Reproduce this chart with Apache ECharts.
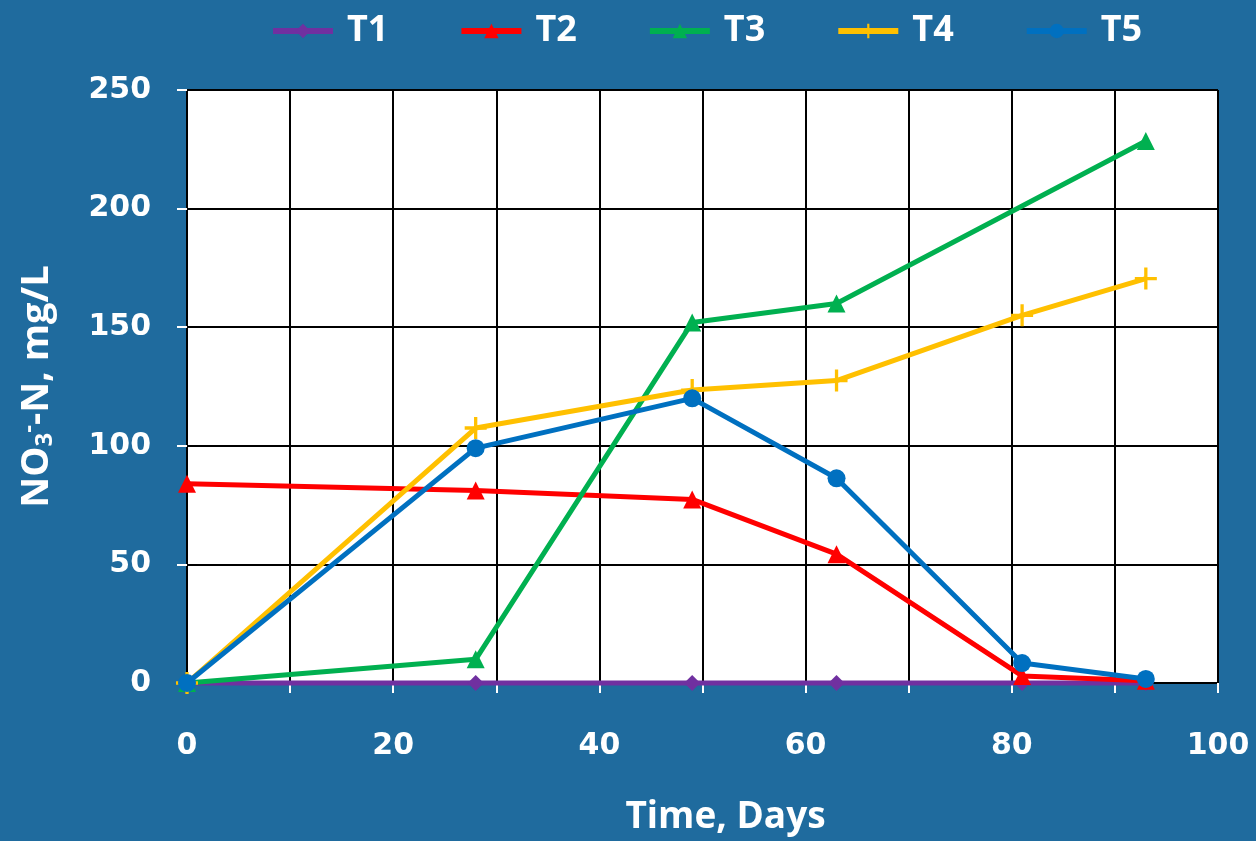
<!DOCTYPE html>
<html><head><meta charset="utf-8">
<script src="https://cdn.jsdelivr.net/npm/echarts@6/dist/echarts.min.js"></script>
<style>html,body{margin:0;padding:0;background:#1F6B9E}#c{width:1256px;height:841px}</style>
</head><body><div id="c"></div>
<script>
const days = [0, 28, 49, 63, 81, 93];
const t1 = [0, 0, 0, 0, 0, 0];
const t2 = [84, 81.2, 77.4, 54.3, 3, 1];
const t3 = [0, 10, 152, 160, null, 228.5];
const t4 = [0, 107.5, 123.5, 127.5, 155, 170.5];
const t5 = [0, 99, 120, 86.3, 8.4, 1.7];
const seriesNames = ['T1', 'T2', 'T3', 'T4', 'T5'];
const xTicks = [0, 20, 40, 60, 80, 100];
const yTicks = [0, 50, 100, 150, 200, 250];

const colors = ['#7030A0', '#FF0000', '#00B050', '#FFC000', '#0070C0'];
const plus = 'path://M0,8.5H20V11.5H0Z M8.5,0H11.5V20H8.5Z';
const symbols = ['diamond', 'triangle', 'triangle', plus, 'circle'];
const sizes = [16, 18, 18, 22, 18];
const all = [t1, t2, t3, t4, t5];

const chart = echarts.init(document.getElementById('c'));
const tickFont = {color: '#fff', fontFamily: 'DejaVu Sans', fontWeight: 'bold', fontSize: 30};
chart.setOption({
  backgroundColor: '#1F6B9E',
  animation: false,
  color: colors,
  legend: {
    top: 8, left: 265, itemWidth: 60, itemHeight: 18, itemGap: 70,
    lineStyle: {width: 6},
    textStyle: {color: '#fff', fontFamily: 'Open Sans', fontWeight: 'bold', fontSize: 36, padding: [0, 0, 0, 9]},
    data: seriesNames
  },
  grid: {left: 187, right: 38, top: 90, bottom: 157, show: true, backgroundColor: '#fff', borderWidth: 0},
  xAxis: {
    type: 'value', min: 0, max: 100, interval: 10,
    name: 'Time, Days', nameLocation: 'middle', nameGap: 116,
    nameTextStyle: {color: '#fff', fontFamily: 'Open Sans', fontWeight: 'bold', fontSize: 37, padding: [0, 0, 0, 46]},
    axisLine: {show: false},
    axisTick: {show: true, length: 10, lineStyle: {color: '#fff', width: 2}},
    axisLabel: Object.assign({margin: 48, formatter: v => xTicks.includes(v) ? String(v) : ''}, tickFont),
    splitLine: {show: true, lineStyle: {color: '#000', width: 2}}
  },
  yAxis: {
    type: 'value', min: 0, max: 250, interval: 50,
    name: '{n|NO}{sub|3}{sup|-}{n|-N, mg/L}', nameLocation: 'middle', nameGap: 130,
    nameTextStyle: {
      color: '#fff', fontFamily: 'Open Sans', fontWeight: 'bold', fontSize: 38,
      rich: {
        n: {color: '#fff', fontFamily: 'Open Sans', fontWeight: 'bold', fontSize: 38},
        sub: {color: '#fff', fontFamily: 'Open Sans', fontWeight: 'bold', fontSize: 24, verticalAlign: 'bottom', padding: [16, 0, 0, 0]},
        sup: {color: '#fff', fontFamily: 'Open Sans', fontWeight: 'bold', fontSize: 24, verticalAlign: 'top', padding: [0, 0, 16, 0]}
      }
    },
    axisLine: {show: false},
    axisTick: {show: true, length: 10, lineStyle: {color: '#fff', width: 2}},
    axisLabel: Object.assign({margin: 36, formatter: v => yTicks.includes(v) ? String(v) : ''}, tickFont),
    splitLine: {show: true, lineStyle: {color: '#000', width: 2}}
  },
  series: all.map((arr, i) => ({
    name: seriesNames[i], type: 'line',
    data: days.map((d, j) => [d, arr[j]]).filter(p => p[1] !== null),
    symbol: symbols[i], symbolSize: sizes[i], showAllSymbol: true,
    lineStyle: {width: 5, color: colors[i]},
    itemStyle: {color: colors[i]},
    clip: false, z: 2 + i
  }))
});
</script></body></html>
